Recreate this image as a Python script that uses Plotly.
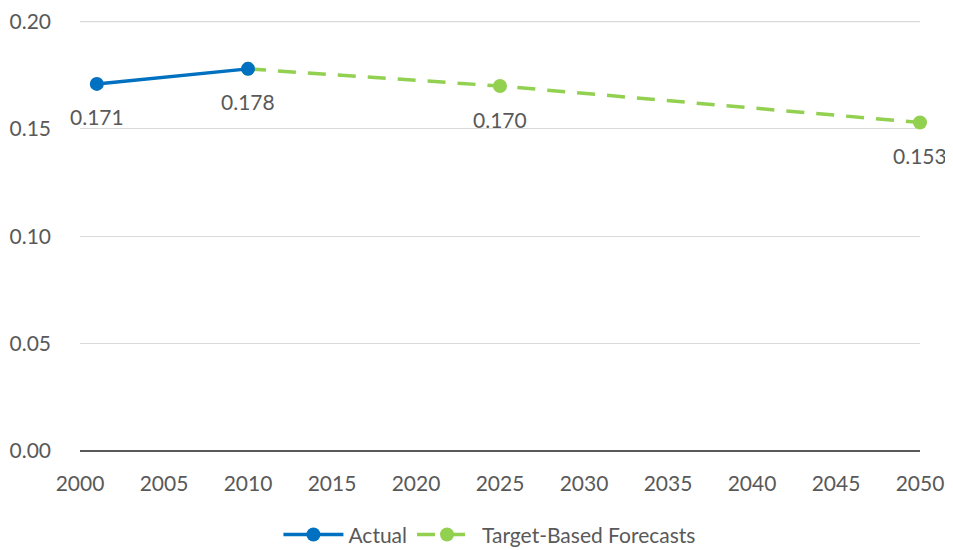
import plotly.graph_objects as go

actual_years = [2001, 2010]
actual_values = [0.171, 0.178]
forecast_years = [2010, 2025, 2050]
forecast_values = [0.178, 0.170, 0.153]
label_years = [2001, 2010, 2025, 2050]
label_values = [0.171, 0.178, 0.170, 0.153]
y_ticks = [0.00, 0.05, 0.10, 0.15, 0.20]
x_ticks = list(range(2000, 2051, 5))

FONT = "Lato, 'Open Sans', sans-serif"
TXT = "#595959"

fig = go.Figure()
fig.add_trace(go.Scatter(
    x=forecast_years, y=forecast_values, mode="lines+markers",
    name="Target-Based Forecasts",
    line=dict(color="#92D050", width=3.5, dash="18px,12px"),
    marker=dict(color="#92D050", size=14),
    cliponaxis=False,
))
fig.add_trace(go.Scatter(
    x=actual_years, y=actual_values, mode="lines+markers",
    name="Actual",
    line=dict(color="#0070C0", width=3.5),
    marker=dict(color="#0070C0", size=14),
    cliponaxis=False,
))

for x, v in zip(label_years, label_values):
    fig.add_annotation(x=x, y=v, text=f"{v:.3f}", showarrow=False,
                       yshift=-33, font=dict(family=FONT, size=21, color=TXT))

# top gridline (at the upper edge of the plot area)
fig.add_shape(type="line", xref="paper", x0=0, x1=1, yref="y",
              y0=y_ticks[-1], y1=y_ticks[-1],
              line=dict(color="#D9D9D9", width=1.3), layer="below")

fig.update_layout(
    width=945, height=542,
    margin=dict(l=72, r=33, t=13, b=99, autoexpand=False),
    plot_bgcolor="white", paper_bgcolor="white",
    font=dict(family=FONT, size=21, color=TXT),
    showlegend=True,
    legend=dict(orientation="h", x=0.488, xanchor="center", y=-0.195, yanchor="middle",
                traceorder="reversed", font=dict(size=21, color=TXT),
                itemwidth=60),
)
fig.update_xaxes(range=[2000, 2050], tickvals=x_ticks, showgrid=False,
                 zeroline=False, showline=False, ticks="", ticklabelstandoff=18,
                 automargin=False, ticklabeloverflow="allow")
fig.update_yaxes(range=[0, 0.2003], tickvals=y_ticks, tickformat=".2f",
                 showgrid=True, gridcolor="#D9D9D9", gridwidth=1.3,
                 zeroline=True, zerolinecolor="#595959", zerolinewidth=1.5,
                 showline=False, ticks="", ticklabelstandoff=28,
                 automargin=False, ticklabeloverflow="allow")

fig.write_html("out.html")
